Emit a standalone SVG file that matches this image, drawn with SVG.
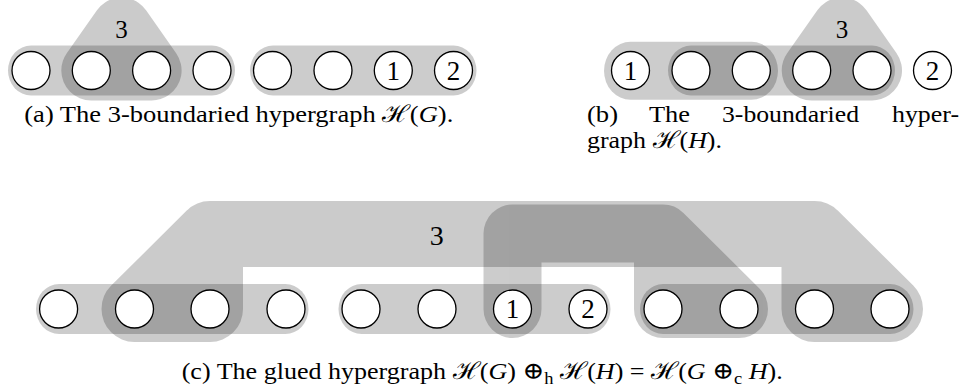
<svg xmlns="http://www.w3.org/2000/svg" width="969" height="391" viewBox="0 0 969 391">
<style>
  .edge { opacity: 0.2; }
  .edge * { fill: #000; stroke: #000; stroke-linejoin: round; stroke-linecap: round; }
  .edge rect { stroke: none; }
  .edge .line { fill: none; }
  .edge .solid { stroke: none; }
  .node circle { fill: #fff; stroke: #000; stroke-width: 1.3; }
  .node text, .lbl, .cap { font-family: "Liberation Serif", "DejaVu Serif", serif; fill: #000; }
  .node text { font-size: 27px; text-anchor: middle; }
  .lbl { text-anchor: middle; }
  .cap { font-size: 24px; }
  .it { font-style: italic; }
  .sub { font-size: 17px; }
</style>
<rect x="0" y="0" width="969" height="391" fill="#fff"/>

<g id="hyperedges">
  <!-- (a) -->
  <g class="edge" id="a-e1"><rect x="8" y="45.5" width="227" height="50" rx="23" ry="25"/></g>
  <g class="edge" id="a-e2"><rect x="250" y="45.5" width="226.5" height="50" rx="23" ry="25"/></g>
  <g class="edge" id="a-e3"><polygon points="91.3,70.5 121.5,27.5 151.6,70.5" stroke-width="60"/></g>
  <!-- (b) -->
  <g class="edge" id="b-e1"><rect x="604" y="41.8" width="174" height="58" rx="26.5" ry="29"/></g>
  <g class="edge" id="b-e2"><rect x="668" y="45.5" width="227" height="50" rx="23" ry="25"/></g>
  <g class="edge" id="b-e3"><polygon points="811.7,70.5 841.9,27.5 872,70.5" stroke-width="60"/></g>
  <!-- (c) -->
  <g class="edge" id="c-g1"><rect x="36" y="284" width="272.5" height="50" rx="23" ry="25"/></g>
  <g class="edge" id="c-g2"><rect x="338.5" y="284" width="272" height="50" rx="23" ry="25"/></g>
  <g class="edge" id="c-h2"><rect x="640" y="284" width="273.5" height="50" rx="23" ry="25"/></g>
  <g class="edge" id="c-h1">
    <path class="line" d="M512.5,309 L512.5,233.5 L663,233.5 L739,309 L663,309 L663,233.5" stroke-width="58"/>
    <polygon class="solid" points="663,233.5 739,309 663,309"/>
  </g>
  <g class="edge" id="c-big3"><path d="M134.5,309 L210,234 L814.5,234 L890,309 L814.5,309 L814.5,234 L210,234 L210,309 Z" stroke-width="66"/></g>
</g>

<text class="lbl" x="121.5" y="37.5" font-size="25">3</text>
<text class="lbl" x="842" y="37.5" font-size="25">3</text>
<text class="lbl" x="436.7" y="245" font-size="28">3</text>

<!-- (a) nodes -->
<g id="a-v1" class="node"><circle cx="31" cy="70.5" r="19"/></g>
<g id="a-v2" class="node"><circle cx="91.3" cy="70.5" r="19"/></g>
<g id="a-v3" class="node"><circle cx="151.6" cy="70.5" r="19"/></g>
<g id="a-v4" class="node"><circle cx="212" cy="70.5" r="19"/></g>
<g id="a-v5" class="node"><circle cx="272.5" cy="70.5" r="19"/></g>
<g id="a-v6" class="node"><circle cx="333" cy="70.5" r="19"/></g>
<g id="a-v7" class="node"><circle cx="393.3" cy="70.5" r="19"/><text x="393.3" y="79.5">1</text></g>
<g id="a-v8" class="node"><circle cx="453.5" cy="70.5" r="19"/><text x="453.5" y="79.5">2</text></g>

<!-- (b) nodes -->
<g id="b-v1" class="node"><circle cx="630.5" cy="70.5" r="19"/><text x="630.5" y="79.5">1</text></g>
<g id="b-v2" class="node"><circle cx="691" cy="70.5" r="19"/></g>
<g id="b-v3" class="node"><circle cx="751.3" cy="70.5" r="19"/></g>
<g id="b-v4" class="node"><circle cx="811.7" cy="70.5" r="19"/></g>
<g id="b-v5" class="node"><circle cx="872" cy="70.5" r="19"/></g>
<g id="b-v6" class="node"><circle cx="932.5" cy="70.5" r="19"/><text x="932.5" y="79.5">2</text></g>

<!-- (c) nodes -->
<g id="c-v1" class="node"><circle cx="58.6" cy="309" r="19"/></g>
<g id="c-v2" class="node"><circle cx="134.5" cy="309" r="19"/></g>
<g id="c-v3" class="node"><circle cx="210" cy="309" r="19"/></g>
<g id="c-v4" class="node"><circle cx="286" cy="309" r="19"/></g>
<g id="c-v5" class="node"><circle cx="361" cy="309" r="19"/></g>
<g id="c-v6" class="node"><circle cx="437" cy="309" r="19"/></g>
<g id="c-v7" class="node"><circle cx="512.5" cy="309" r="19"/><text x="512.5" y="318">1</text></g>
<g id="c-v8" class="node"><circle cx="588" cy="309" r="19"/><text x="588" y="318">2</text></g>
<g id="c-v9" class="node"><circle cx="663" cy="309" r="19"/></g>
<g id="c-v10" class="node"><circle cx="739" cy="309" r="19"/></g>
<g id="c-v11" class="node"><circle cx="814.5" cy="309" r="19"/></g>
<g id="c-v12" class="node"><circle cx="890" cy="309" r="19"/></g>

<!-- captions -->
<text class="cap" x="24.3" y="122" textLength="429" lengthAdjust="spacingAndGlyphs">(a) The 3-boundaried hypergraph ℋ(<tspan class="it">G</tspan>).</text>

<text class="cap" x="587" y="122" textLength="31" lengthAdjust="spacingAndGlyphs">(b)</text>
<text class="cap" x="649" y="122" textLength="41" lengthAdjust="spacingAndGlyphs">The</text>
<text class="cap" x="722" y="122" textLength="137" lengthAdjust="spacingAndGlyphs">3-boundaried</text>
<text class="cap" x="892" y="122" textLength="67" lengthAdjust="spacingAndGlyphs">hyper-</text>
<text class="cap" x="587" y="148" textLength="135" lengthAdjust="spacingAndGlyphs">graph ℋ(<tspan class="it">H</tspan>).</text>

<text class="cap" x="181.7" y="379" textLength="601" lengthAdjust="spacingAndGlyphs">(c) The glued hypergraph ℋ(<tspan class="it">G</tspan>) ⊕<tspan class="sub" dy="5">h</tspan><tspan dy="-5"> ℋ(</tspan><tspan class="it">H</tspan>) = ℋ(<tspan class="it">G</tspan> ⊕<tspan class="sub" dy="5">c</tspan><tspan dy="-5"> </tspan><tspan class="it">H</tspan>).</text>
</svg>
